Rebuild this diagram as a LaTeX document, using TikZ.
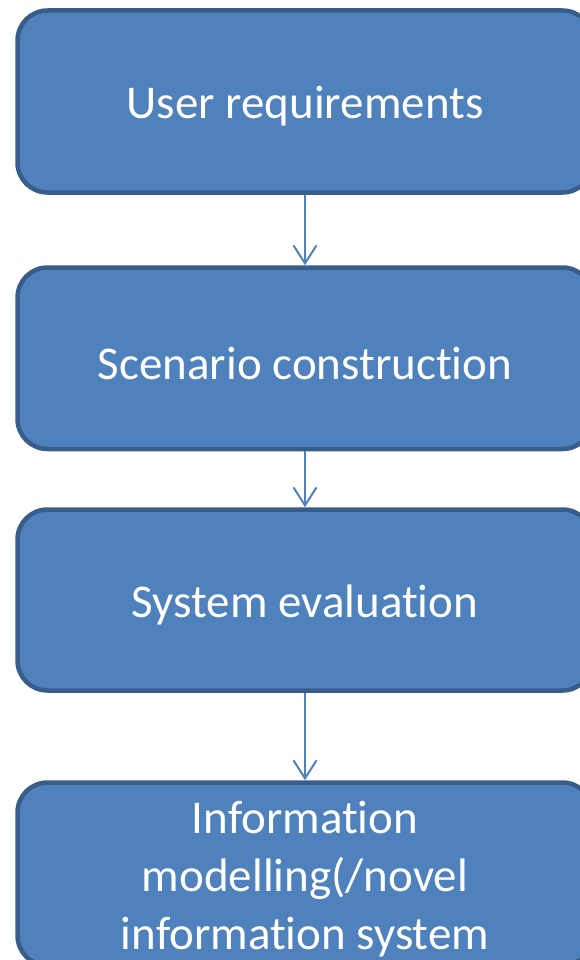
\documentclass[tikz,border=0pt]{standalone}
\usepackage{fontspec}
\setmainfont{Carlito}[Ligatures=NoCommon]
\usetikzlibrary{arrows.meta}
\definecolor{boxfill}{HTML}{4F81BD}
\definecolor{boxline}{HTML}{385D8A}
\newcommand{\dn}[1]{\raisebox{-5pt}[\height][\depth]{#1}}
\begin{document}
\begin{tikzpicture}[x=1pt,y=-1pt,
  stepbox/.style={draw=boxline, fill=boxfill, line width=4.5pt, rounded corners=30pt,
    minimum width=575pt, minimum height=182pt, inner sep=0pt, text=white, align=center,
    font=\fontsize{47pt}{58pt}\selectfont},
  conn/.style={draw=boxfill, line width=2pt, -{Straight Barb[length=18pt,width=23pt]}}]
\useasboundingbox (0,0) rectangle (580,960);
\clip (0,0) rectangle (580,960);
\node[stepbox] (b1) at (305,101.5) {\dn{User requirements}};
\node[stepbox, minimum height=181.5pt] (b2) at (305,358.25) {\dn{Scenario construction}};
\node[stepbox, minimum height=181pt] (b3) at (305,600) {\dn{System evaluation}};
\node[stepbox, minimum height=183pt] (b4) at (305,874) {\dn{Information}\\\dn{modelling(/novel}\\\dn{information system}};
\draw[conn] (b1.south) -- (b2.north);
\draw[conn] (b2.south) -- (b3.north);
\draw[conn] (b3.south) -- (b4.north);
\end{tikzpicture}
\end{document}
